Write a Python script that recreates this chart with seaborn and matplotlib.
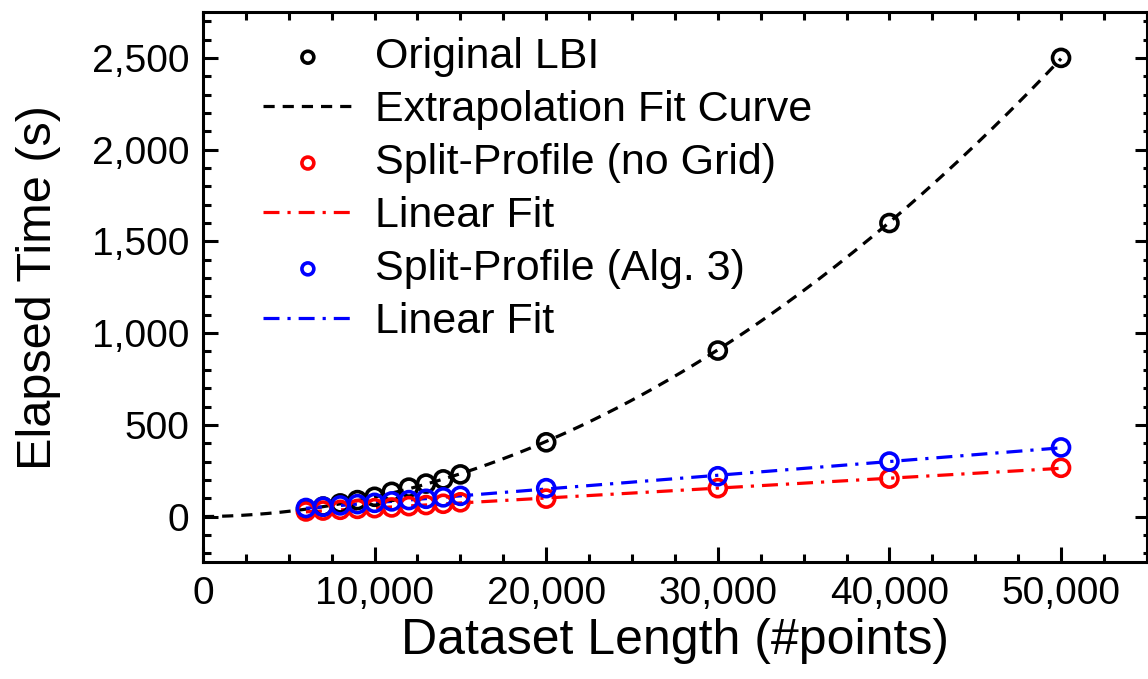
import numpy as np
import pandas as pd
import matplotlib
matplotlib.use("Agg")
import matplotlib.pyplot as plt
import matplotlib.ticker as mticker
import seaborn as sns

# dataset lengths (#points)
lengths = [6000, 7000, 8000, 9000, 10000, 11000, 12000, 13000, 14000, 15000,
           20000, 30000, 40000, 50000]
# elapsed times (s)
original_lbi = [40, 55, 72, 90, 108, 135, 158, 180, 203, 230, 405, 905, 1600, 2500]
split_nogrid = [28, 33, 37, 42, 46, 50, 57, 63, 70, 78, 98, 155, 207, 266]
split_alg3 = [47, 54, 61, 68, 75, 83, 90, 97, 105, 113, 155, 220, 300, 377]

sns.set_style("ticks")
plt.rcParams["font.family"] = ["Liberation Sans", "DejaVu Sans"]
plt.rcParams["text.color"] = "black"
plt.rcParams["axes.labelcolor"] = "black"
plt.rcParams["xtick.color"] = "black"
plt.rcParams["ytick.color"] = "black"
plt.rcParams["axes.edgecolor"] = "black"

df = pd.DataFrame({"n": lengths, "lbi": original_lbi,
                   "nogrid": split_nogrid, "alg3": split_alg3})

x = df["n"].to_numpy(dtype=float)
# quadratic fit through origin for the original LBI
A = np.column_stack([x ** 2, x])
coef, *_ = np.linalg.lstsq(A, df["lbi"].to_numpy(dtype=float), rcond=None)
xq = np.linspace(0, 50000, 200)
quad = pd.DataFrame({"n": xq, "t": coef[0] * xq ** 2 + coef[1] * xq})

# linear fits for the split-profile runs
xl = np.linspace(6000, 50000, 50)
p_red = np.polyfit(x, df["nogrid"], 1)
p_blue = np.polyfit(x, df["alg3"], 1)
lin_red = pd.DataFrame({"n": xl, "t": np.polyval(p_red, xl)})
lin_blue = pd.DataFrame({"n": xl, "t": np.polyval(p_blue, xl)})

fig = plt.figure(figsize=(11.48, 6.79), dpi=100)
ax = fig.add_axes([0.1768, 0.1716, 0.8222, 0.8107])

mk = dict(marker="o", s=150, facecolor="none", linewidth=2.6, zorder=3)
sns.scatterplot(data=df, x="n", y="lbi", edgecolor="black", label="Original LBI", ax=ax, **mk)
sns.lineplot(data=quad, x="n", y="t", color="black", lw=2.3,
             linestyle=(0, (3.5, 2.5)), label="Extrapolation Fit Curve", ax=ax)
sns.scatterplot(data=df, x="n", y="nogrid", edgecolor="red", label="Split-Profile (no Grid)", ax=ax, **mk)
sns.lineplot(data=lin_red, x="n", y="t", color="red", lw=2.3,
             linestyle=(0, (5, 2.5, 1, 2.5)), label="Linear Fit", ax=ax)
sns.scatterplot(data=df, x="n", y="alg3", edgecolor="blue", label="Split-Profile (Alg. 3)", ax=ax, **mk)
sns.lineplot(data=lin_blue, x="n", y="t", color="blue", lw=2.3,
             linestyle=(0, (5, 2.5, 1, 2.5)), label="Linear Fit", ax=ax)

ax.set_xlim(0, 55000)
ax.set_ylim(-250, 2750)
ax.xaxis.set_major_locator(mticker.MultipleLocator(10000))
ax.xaxis.set_minor_locator(mticker.MultipleLocator(2500))
ax.yaxis.set_major_locator(mticker.MultipleLocator(500))
ax.yaxis.set_minor_locator(mticker.MultipleLocator(100))
fmt = mticker.StrMethodFormatter("{x:,.0f}")
ax.xaxis.set_major_formatter(fmt)
ax.yaxis.set_major_formatter(fmt)

for s in ax.spines.values():
    s.set_linewidth(2.2)
    s.set_visible(True)
ax.tick_params(which="major", direction="in", length=11, width=2.2, labelsize=28, pad=10)
ax.tick_params(which="minor", direction="in", length=6, width=2.2)

top = ax.secondary_xaxis("top")
top.xaxis.set_major_locator(mticker.MultipleLocator(10000))
top.xaxis.set_minor_locator(mticker.MultipleLocator(2500))
top.tick_params(which="both", direction="in", length=6, width=2.2, labeltop=False)
right = ax.secondary_yaxis("right")
right.yaxis.set_major_locator(mticker.MultipleLocator(500))
right.yaxis.set_minor_locator(mticker.MultipleLocator(100))
right.tick_params(which="major", direction="in", length=9, width=2.2, labelright=False)
right.tick_params(which="minor", direction="in", length=3, width=2.2)

ax.set_xlabel("Dataset Length (#points)", fontsize=36, labelpad=4)
ax.set_ylabel("Elapsed Time (s)", fontsize=35, labelpad=22)

ax.legend(loc="upper left", bbox_to_anchor=(0.045, 0.985), frameon=False,
          fontsize=31, markerscale=0.7, handlelength=2.1, handletextpad=0.5,
          labelspacing=0.3, borderaxespad=0)

fig.savefig("out.png", dpi=100)
